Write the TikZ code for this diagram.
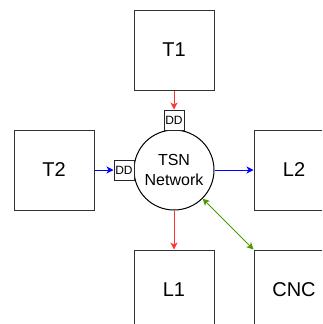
\documentclass[tikz,border=0pt]{standalone}
\usepackage{fontspec}
\setmainfont{Liberation Sans}
\usetikzlibrary{arrows.meta}
\definecolor{redl}{HTML}{FF3333}
\definecolor{bluel}{HTML}{0000FF}
\definecolor{greenl}{HTML}{4D9900}
\begin{document}
\begin{tikzpicture}[x=1pt,y=1pt,
  sbox/.style={draw=black!80,line width=1pt,minimum width=80pt,minimum height=80pt,inner sep=0pt,font=\fontsize{20}{24}\selectfont},
  ddbox/.style={draw=black!85,line width=1pt,fill=white,minimum width=20pt,minimum height=20pt,inner sep=0pt,font=\fontsize{12}{14}\selectfont},
  arr/.style={line width=1pt,-{Stealth[length=7pt,width=7pt,inset=2pt]}},
  darr/.style={line width=1pt,{Stealth[length=7pt,width=7pt,inset=2pt]}-{Stealth[length=7pt,width=7pt,inset=2pt]}}]
\useasboundingbox (0,0) rectangle (322,-324);
\clip (0,0) rectangle (322,-324);
\node[sbox] (t1) at (174,-50) {T1};
\node[sbox] (t2) at (54,-170) {T2};
\node[sbox] (l2) at (294,-170) {L2};
\node[sbox] (l1) at (174,-290) {L1};
\node[sbox] (cnc) at (294,-290) {CNC};
\node[circle,draw=black,line width=1pt,minimum size=80pt,inner sep=0pt,align=center,font=\fontsize{16}{20}\selectfont] (net) at (174,-170) {TSN\\Network};
\node[ddbox] (ddt) at (174,-120) {DD};
\node[ddbox] (ddl) at (124,-170) {DD};
\draw[arr,redl] (t1.south) -- (ddt.north);
\draw[arr,bluel] (t2.east) -- (ddl.west);
\draw[arr,bluel] (net.east) -- (l2.west);
\draw[arr,redl] (net.south) -- (l1.north);
\draw[darr,greenl] (net) -- (cnc.north west);
\end{tikzpicture}
\end{document}
